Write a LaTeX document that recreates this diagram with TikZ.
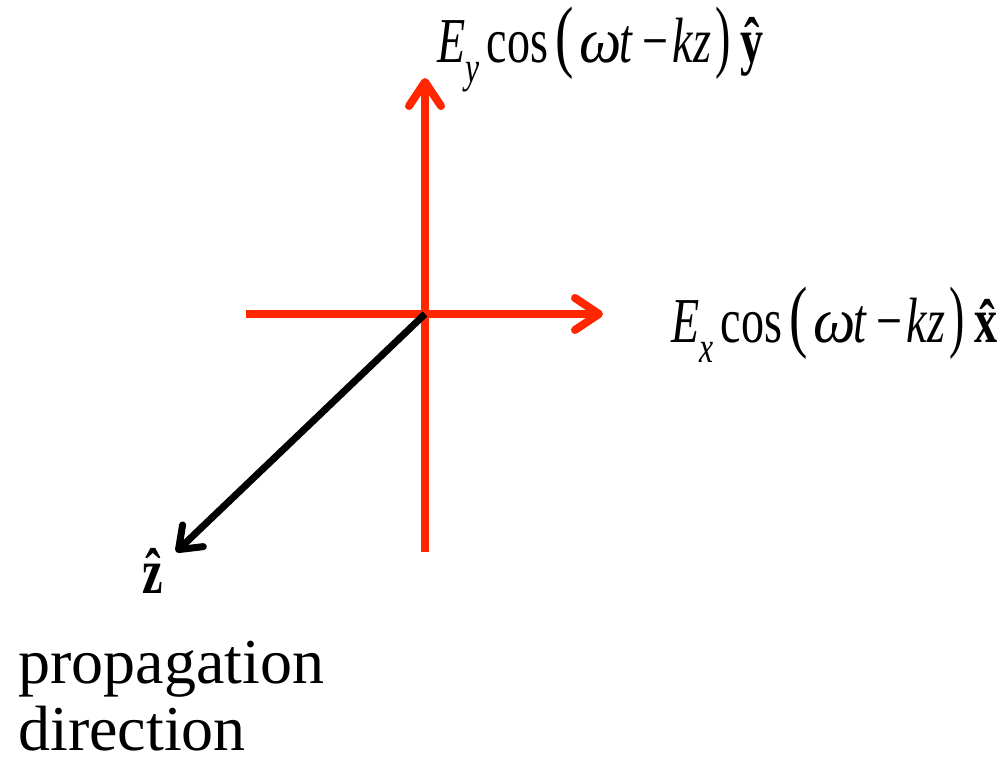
\documentclass[tikz,border=0pt]{standalone}
\usepackage{fontspec}
\setmainfont{Liberation Serif}
\usepackage{graphicx}
\usetikzlibrary{arrows.meta}
\definecolor{fieldred}{RGB}{255,38,0}
\newcommand{\fieldterm}[2]{\scalebox{0.72}[1]{{\itshape E}\raisebox{-10pt}{\fontsize{22}{22}\selectfont\itshape #1}\hspace{4.9pt}cos\hspace{5pt}\scalebox{1.2}[1.25]{(}\hspace{4pt}{\itshape\scalebox{1.3}[1]{ω}\kern-0.06em t}\hspace{7.5pt}−\hspace{3pt}{\itshape kz}\hspace{3pt}\scalebox{1}[1.25]{)}\hspace{6.9pt}\textbf{\^{#2}}}}
\begin{document}
\begin{tikzpicture}[x=0.5pt,y=-0.5pt,
  redaxis/.style={draw=fieldred,line width=4pt},
  redhead/.style={-{Straight Barb[length=12pt,width=16pt,round]}},
  zaxis/.style={draw=black,line width=3.5pt,-{Straight Barb[length=10pt,width=15pt,round]}},
  lab/.style={inner sep=0pt,font=\fontsize{32}{33.5}\selectfont}]
\useasboundingbox (0,0) rectangle (1001,757);
\coordinate (O) at (425,314);
\coordinate (ytop) at (425,78);
\coordinate (ybot) at (425,552);
\coordinate (xleft) at (246,314);
\coordinate (xright) at (603,314);
\coordinate (ztip) at (176,552);
\draw[redaxis,redhead] (ybot) -- (ytop);
\draw[redaxis,redhead] (xleft) -- (xright);
\draw[zaxis] (O) -- (ztip);
\node[lab,anchor=base west] (ylab) at (437,62) {\fieldterm{y}{y}};
\node[lab,anchor=base west] (xlab) at (671,342) {\fieldterm{x}{x}};
\node[lab,anchor=base west] (zlab) at (142,593) {\scalebox{0.72}[1]{\textbf{\^z}}};
\node[lab,anchor=base west,align=left] (prop) at (18,750) {propagation\\direction};
\end{tikzpicture}
\end{document}
